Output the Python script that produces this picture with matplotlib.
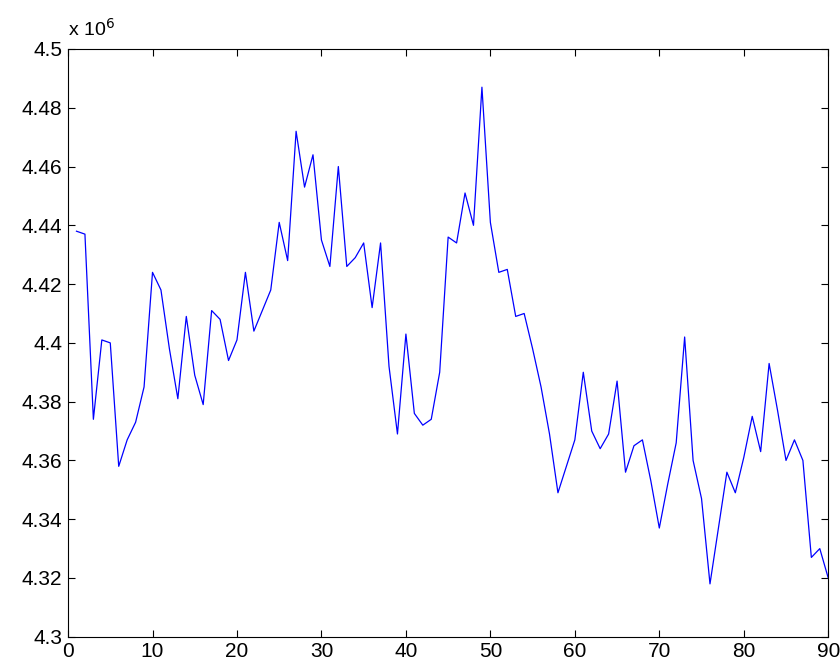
import numpy as np
import matplotlib
matplotlib.use("Agg")
import matplotlib.pyplot as plt
from matplotlib.ticker import FuncFormatter

# sample index and values (in units of 1e6)
x = np.arange(1, 91)
vals = [4.438, 4.437, 4.374, 4.401, 4.400, 4.358, 4.367, 4.373, 4.385, 4.424,
        4.418, 4.398, 4.381, 4.409, 4.389, 4.379, 4.411, 4.408, 4.394, 4.401,
        4.424, 4.404, 4.411, 4.418, 4.441, 4.428, 4.472, 4.453, 4.464, 4.435,
        4.426, 4.460, 4.426, 4.429, 4.434, 4.412, 4.434, 4.392, 4.369, 4.403,
        4.376, 4.372, 4.374, 4.390, 4.436, 4.434, 4.451, 4.440, 4.487, 4.441,
        4.424, 4.425, 4.409, 4.410, 4.398, 4.385, 4.369, 4.349, 4.358, 4.367,
        4.390, 4.370, 4.364, 4.369, 4.387, 4.356, 4.365, 4.367, 4.353, 4.337,
        4.352, 4.366, 4.402, 4.360, 4.347, 4.318, 4.337, 4.356, 4.349, 4.361,
        4.375, 4.363, 4.393, 4.377, 4.360, 4.367, 4.360, 4.327, 4.330, 4.320]
y = np.array(vals) * 1e6

xticks = np.arange(0, 91, 10)
yticks = np.arange(4.30, 4.501, 0.02) * 1e6

plt.rcParams['font.family'] = ['Liberation Sans', 'DejaVu Sans']

fig = plt.figure(figsize=(8.4, 6.71), dpi=100)
ax = fig.add_axes([0.081, 0.051, 0.905, 0.876])
ax.plot(x, y, color=(0, 0, 1), linewidth=0.9)

ax.set_xlim(0, 90)
ax.set_ylim(4.3e6, 4.5e6)
ax.set_xticks(xticks)
ax.set_yticks(yticks)
ax.yaxis.set_major_formatter(FuncFormatter(lambda v, p: '%g' % round(v / 1e6, 2)))

ax.tick_params(direction='in', length=5, width=0.8, labelsize=15,
               top=True, right=True, colors='black', pad=4)
for s in ax.spines.values():
    s.set_linewidth(0.8)

fig.text(0.081, 1 - 36 / 671, r'x 10$^6$', fontsize=14, ha='left', va='baseline')

fig.savefig('out.png', dpi=100)
